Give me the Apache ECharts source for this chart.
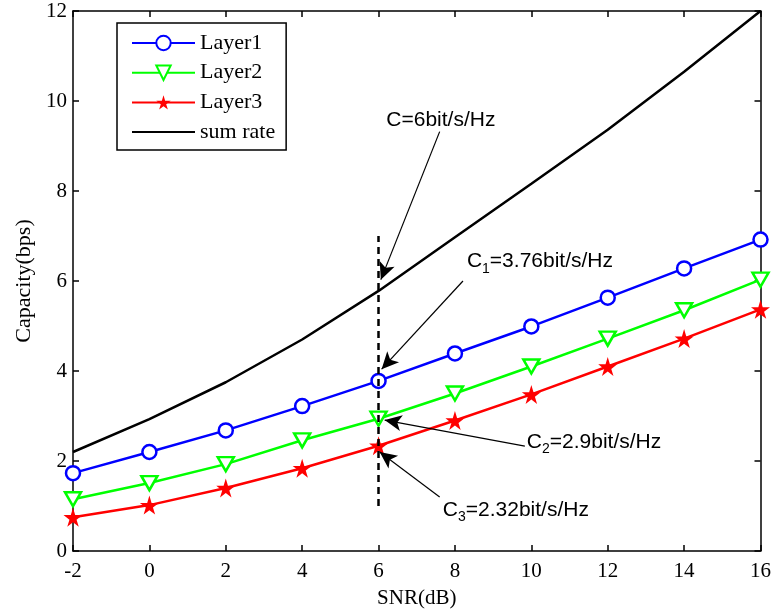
<!DOCTYPE html>
<html>
<head>
<meta charset="utf-8">
<script src="https://cdn.jsdelivr.net/npm/echarts@6/dist/echarts.min.js"></script>
<style>html,body{margin:0;padding:0;background:#fff}#c{width:774px;height:614px}</style>
</head>
<body>
<div id="c"></div>
<script>
// ---- data ----
var snr = [-2, 0, 2, 4, 6, 8, 10, 12, 14, 16];
var layer1 = [1.73, 2.20, 2.68, 3.22, 3.78, 4.39, 4.99, 5.63, 6.28, 6.92];
var layer2 = [1.15, 1.51, 1.93, 2.46, 2.94, 3.50, 4.10, 4.72, 5.35, 6.03];
var layer3 = [0.75, 1.02, 1.40, 1.84, 2.34, 2.90, 3.48, 4.10, 4.72, 5.37];
var sumRate = [2.20, 2.93, 3.75, 4.70, 5.78, 6.97, 8.16, 9.36, 10.65, 12.0];
var xTicks = [-2, 0, 2, 4, 6, 8, 10, 12, 14, 16];
var yTicks = [0, 2, 4, 6, 8, 10, 12];
var seriesNames = ['Layer1', 'Layer2', 'Layer3', 'sum rate'];
var xTitle = 'SNR(dB)';
var yTitle = 'Capacity(bps)';
// annotation (data coordinates)
var dashedLine = [[6, 1], [6, 7]];
var arrowStarts = [[7.60, 9.32], [8.21, 6.00], [9.83, 2.33], [7.60, 1.20]];
var arrowTips = [[6.06, 6.03], [6.08, 4.04], [6.16, 2.91], [6.03, 2.20]];
var noteAnchors = [[6.19, 9.58], [8.30, 6.43], [9.87, 2.42], [7.67, 0.91]];
var noteMain = ['C', 'C', 'C', 'C'];
var noteSub = ['', '1', '2', '3'];
var noteRest = ['=6bit/s/Hz', '=3.76bit/s/Hz', '=2.9bit/s/Hz', '=2.32bit/s/Hz'];

function pairs(xs, ys) { return xs.map(function (x, i) { return [x, ys[i]]; }); }

var serif = 'Liberation Serif';
var sans = 'Liberation Sans';
var starPath = 'path://M50,0 L61,35 L98,35 L68,57 L79,91 L50,70 L21,91 L32,57 L2,35 L39,35 Z';
var triPath = 'path://M0,0 L100,0 L50,87 Z';

var axisLineStyle = { color: '#000', width: 1.5 };

var arrowData = arrowStarts.map(function (s, i) {
  return [{ coord: s }, { coord: arrowTips[i] }];
});
var noteData = noteAnchors.map(function (a, i) {
  var txt = '{m|' + noteMain[i] + '}' + (noteSub[i] ? '{s|' + noteSub[i] + '}' : '') + '{m|' + noteRest[i] + '}';
  return { coord: a, label: { formatter: txt } };
});

var legendData = seriesNames.map(function (n, i) {
  return i === 3 ? { name: n, itemStyle: { opacity: 0 } } : { name: n };
});

var option = {
  animation: false,
  backgroundColor: '#fff',
  grid: { left: 73, right: 13, top: 11, bottom: 62, containLabel: false },
  legend: {
    orient: 'vertical',
    left: 117, top: 23,
    data: legendData,
    itemWidth: 63, itemHeight: 18, itemGap: 7.7,
    padding: [9, 11, 7, 14],
    borderColor: '#000', borderWidth: 1.5,
    backgroundColor: '#fff',
    textStyle: { fontFamily: serif, fontSize: 22, color: '#000', lineHeight: 21 }
  },
  xAxis: [{
    type: 'value', min: -2, max: 16, interval: 2,
    name: xTitle, nameLocation: 'middle', nameGap: 37,
    nameTextStyle: { fontFamily: serif, fontSize: 21, color: '#000' },
    axisLine: { show: true, onZero: false, lineStyle: axisLineStyle },
    axisTick: { show: true, inside: true, length: 6, lineStyle: axisLineStyle },
    axisLabel: { fontFamily: serif, fontSize: 21, color: '#000', margin: 10,
      formatter: function (v) { return xTicks.indexOf(v) >= 0 ? String(v) : ''; } },
    splitLine: { show: false }
  }, {
    type: 'value', min: -2, max: 16, interval: 2, position: 'top',
    axisLine: { show: true, onZero: false, lineStyle: axisLineStyle },
    axisTick: { show: true, inside: true, length: 6, lineStyle: axisLineStyle },
    axisLabel: { show: false }, splitLine: { show: false }
  }],
  yAxis: [{
    type: 'value', min: 0, max: 12, interval: 2,
    name: yTitle, nameLocation: 'middle', nameGap: 38, nameRotate: 90,
    nameTextStyle: { fontFamily: serif, fontSize: 22, color: '#000' },
    axisLine: { show: true, onZero: false, lineStyle: axisLineStyle },
    axisTick: { show: true, inside: true, length: 6, lineStyle: axisLineStyle },
    axisLabel: { fontFamily: serif, fontSize: 21, color: '#000', margin: 6,
      formatter: function (v) { return yTicks.indexOf(v) >= 0 ? String(v) : ''; } },
    splitLine: { show: false }
  }, {
    type: 'value', min: 0, max: 12, interval: 2, position: 'right',
    axisLine: { show: true, onZero: false, lineStyle: axisLineStyle },
    axisTick: { show: true, inside: true, length: 6, lineStyle: axisLineStyle },
    axisLabel: { show: false }, splitLine: { show: false }
  }],
  series: [{
    name: seriesNames[0], type: 'line', data: pairs(snr, layer1),
    symbol: 'circle', symbolSize: 14, showAllSymbol: true,
    lineStyle: { color: '#0000ff', width: 2.5 },
    itemStyle: { color: '#fff', borderColor: '#0000ff', borderWidth: 2.5 },
    z: 3
  }, {
    name: seriesNames[1], type: 'line', data: pairs(snr, layer2),
    symbol: triPath, symbolSize: [16, 14], showAllSymbol: true,
    lineStyle: { color: '#00ff00', width: 2.5 },
    itemStyle: { color: '#fff', borderColor: '#00ff00', borderWidth: 2.5 },
    z: 3
  }, {
    name: seriesNames[2], type: 'line', data: pairs(snr, layer3),
    symbol: starPath, symbolSize: 19, showAllSymbol: true,
    lineStyle: { color: '#ff0000', width: 2.5 },
    itemStyle: { color: '#ff0000', borderColor: '#ff0000', borderWidth: 0 },
    z: 3,
    markLine: {
      silent: true, symbol: ['none', 'none'],
      label: { show: false },
      lineStyle: { color: '#000', width: 2.5, type: [7, 5] },
      emphasis: { disabled: true },
      data: [[{ coord: dashedLine[0] }, { coord: dashedLine[1] }]]
    }
  }, {
    name: seriesNames[3], type: 'line', data: pairs(snr, sumRate),
    symbol: 'none',
    lineStyle: { color: '#000', width: 2.5 },
    itemStyle: { color: '#000' },
    z: 3,
    markLine: {
      silent: true, symbol: ['none', 'arrow'], symbolSize: [12, 17],
      label: { show: false },
      lineStyle: { color: '#000', width: 1.2, type: 'solid' },
      emphasis: { disabled: true },
      data: arrowData
    },
    markPoint: {
      silent: true, symbol: 'circle', symbolSize: 1,
      itemStyle: { color: 'rgba(0,0,0,0)' },
      label: {
        show: true, position: 'right', distance: 0, color: '#000',
        rich: {
          m: { fontFamily: sans, fontSize: 21, color: '#000' },
          s: { fontFamily: sans, fontSize: 14, color: '#000', padding: [14, 0, 0, 0] }
        }
      },
      data: noteData
    }
  }]
};

var chart = echarts.init(document.getElementById('c'), null, { renderer: 'canvas' });
chart.setOption(option);
</script>
</body>
</html>
